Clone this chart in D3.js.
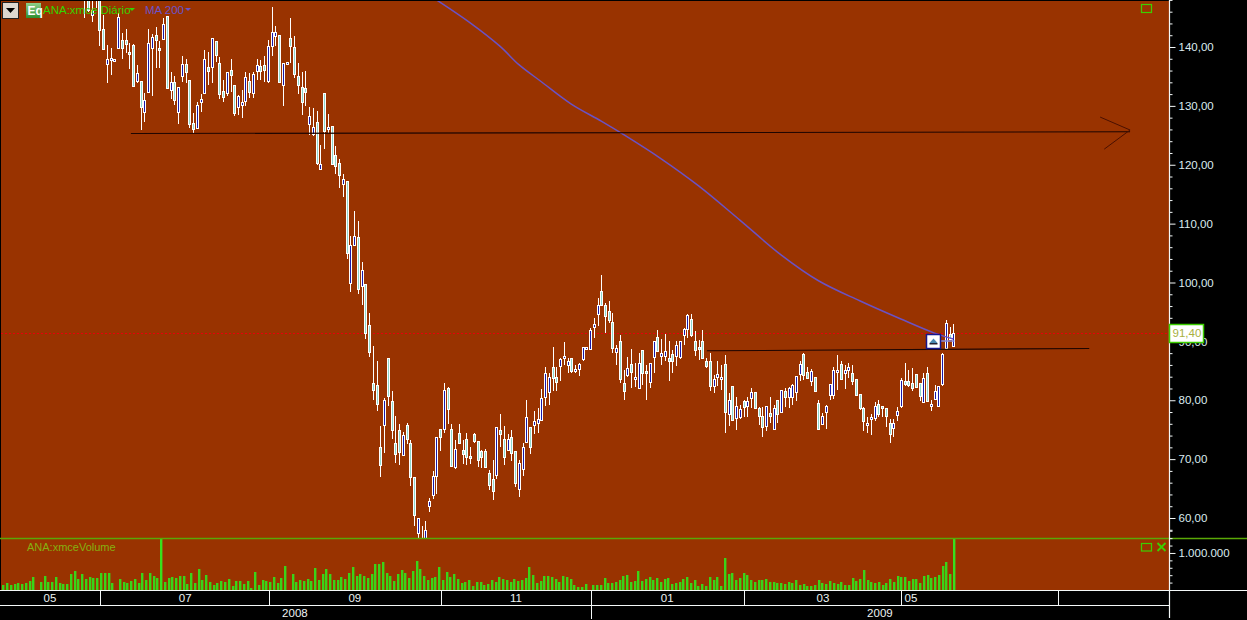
<!DOCTYPE html>
<html><head><meta charset="utf-8">
<script src="https://cdn.jsdelivr.net/npm/d3@7/dist/d3.min.js"></script>
<style>html,body{margin:0;padding:0;background:#000;overflow:hidden}svg{display:block}text{font-family:"Liberation Sans",Arial,sans-serif}</style>
</head><body><svg id="c" width="1247" height="620"></svg>
<script>
const firstCandleIndex = 21;
const high = [150,150,150,150,150,145.5,140.4,139.8,138,145.8,
142.3,143,140.7,140.5,137,134.3,132.2,143,142.2,143.4,
141.1,144.9,145.3,135.8,135,133.2,138.4,137.9,134.4,128.8,
130.7,132,139.5,139.2,141.5,141.1,138.3,134.4,135.7,137.9,
133.6,131.9,132.7,135.7,135.5,135.8,137.9,137.8,138.4,141.2,
146.8,143.6,142,137.2,137.5,144.9,141.9,137.3,135.8,135.9,
129.8,129.6,129.2,123.3,132.2,128.6,126.6,123.1,120.9,118.5,
117.3,107.9,112.2,110.5,103.5,99.8,94.9,89.2,86.7,75.7,
80.3,87.2,81.6,77.3,76,74.6,76.2,73.3,67,60,
58.6,59.5,63.4,68,73.8,75.2,82.9,82.3,76,73.2,
76,73.2,74.4,72,74.5,73,71.6,71.7,68.2,69.8,
75.4,77.6,75.6,74.3,75,71.4,69.9,72.8,80,75.5,
78.2,78.6,81.9,85.6,84.6,89,85.7,87.1,89.9,87.1,
87.2,86,86.4,89.1,89.1,92.2,93.9,97.3,101.2,96.5,
96.9,94.8,89.4,91,85.2,87.3,88.7,86.4,88.1,88.5,
86,86.3,90,91.9,90.4,91.2,90.1,88.5,90.1,90.1,
92.2,94.6,94.6,91.7,90.2,91.9,87.1,88,84.3,86.6,
86,87.7,81.2,82.5,80.6,79.2,80,80.6,82,81.4,
78.9,78.9,79.1,80.5,79.2,80,81.8,82,82.3,82.8,
84.1,86.6,88.1,85.6,85.3,84,80.1,77.8,79.2,82.8,
85.7,87.7,86.6,86,86.3,86,83.6,81,78.9,77.2,
77.7,79.7,80,79.1,78.7,76.9,76.9,78.9,83.7,86.3,
85.1,85.4,84.4,83,84.6,85.7,80,82.6,82.5,88,93.6,92.5,93];
const low = [144.9,146,144.3,146.6,140.2,139.5,133.9,135.3,137.4,139.8,
137.9,138.9,136.3,133.5,133.9,125.9,127.3,132.2,131.7,136.4,
136.4,141.2,133,131.1,130.2,126.9,134.1,133.9,126.2,125.4,
126.3,129,132,133.6,133.9,137.5,131.1,130.7,131.7,132.4,
128.3,128.5,128,130,131.3,131.3,134.4,134.4,134.1,133.9,
138.5,140.1,134.1,129.9,137,137.2,134.7,132,128.5,130,
125.1,124.9,119.9,119.1,122.6,125.4,120,118.5,116,114.6,
104,98.4,106.3,98.1,96.1,90.4,87.3,80,78.2,67,
71.1,79.1,73.5,69.4,69,70.7,72.5,65.5,58.6,56.5,
55,55,61.1,63.3,64.1,71.3,74.5,76,68.9,68.3,
72.6,69.2,69,69.1,72.8,68.6,68.5,68.5,64.8,63.1,
66.6,72.1,69,71.3,69.6,65.3,63.5,67.2,73,70.9,
74.3,74.5,76.5,79,79.2,81.5,81.5,83.3,86,84.6,
84.7,84.7,84.1,86.6,88.8,88.7,90.6,92.6,96.2,91.5,
93.1,88.1,86,82.9,80.1,83.9,82.1,82.3,82.2,82.6,
80,82,84.6,88.5,86,86.6,83.3,84.6,85.8,87,
89.4,90.5,90.8,87.5,86.8,87.1,85.4,81.5,81.2,82.4,
81.8,74.4,75.6,76.4,75,76.9,77.2,77.2,78.6,78.6,
75.8,73.8,74.7,76.1,75.1,76.1,78.1,78.9,78.6,79.2,
79.8,83.3,83.4,83.7,82.4,81.5,75.1,76,75.2,80,
80.2,81.8,83.6,81.9,83.7,82.6,80.7,78.4,74.7,74.4,
74.1,76.4,77.2,77.1,75.5,72.7,73.8,76.4,78.7,82.4,
82.3,81.5,82,79.9,79.5,79.8,78.1,80.2,79.1,82.4,88.7,90.2,89.1];
const open = [150,149,145.4,150,149,143,137.1,137.7,137.5,139.8,
141.2,141.2,139.2,140.4,134.1,134.2,128.9,132.3,139.9,142,
139.8,141.4,145.3,132.7,134,129,135,137.1,134.4,127.1,
126.3,130.6,132.2,136.6,136.6,141.1,137.2,132.6,132.2,136.1,
133.6,129.8,130.2,130.8,134.2,132.2,135.9,136.8,137,134.2,
140.1,142,142,133.4,137.1,141.5,140,135.1,133.2,133,
126.9,125.2,127.2,119.3,132.2,126,126.6,121.7,120.3,116.7,
117.3,100,106.3,107.7,99.3,99.8,92.7,82.9,82.6,72,
75.8,87.2,79.9,72.7,74.9,70.7,75.8,72.7,67,57.4,
56,55.5,62.1,63.9,67.2,75.2,75.1,82.1,75.1,68.7,
74.4,71.6,73.4,70.5,74.2,73,71.4,71.4,67.6,66.6,
67.2,75,73.4,71.6,73.7,71.4,64.9,68.3,73,75.5,
75.9,76.2,76.5,80.5,81.5,85.6,83.9,85.8,87.3,85.9,
87.2,84.9,85.3,87.1,88.8,88.7,92.4,94.6,98.5,96.1,
95.2,93.3,88.2,90,82.9,84.3,86.1,83.7,82.2,88.5,
84.9,83,87.3,90.8,87.6,87.5,87.1,87.8,87.4,87.4,
91,92.1,93.8,90,89,90,86.7,86.6,82.4,84,
83.6,86.1,77.7,82.5,77,77.2,79.9,79,80.4,81.4,
78.6,77.4,75.7,77.9,75.2,80,78.1,81.6,80.6,80.5,
81.3,84.5,87.9,84.8,83.3,83.9,79.5,76,77.9,80.9,
80.9,84.8,86.2,84.6,85.1,84.6,83.6,81,78.6,75.7,
77,77.1,79.3,79.1,78.7,76.1,75.4,77.4,79,83.3,
83.3,83,84.4,83,79.6,84.7,79,80.3,79.1,82.8,88.8,91.3,89.2];
const close = [149,146.3,146.3,149,142.9,139.6,137.9,138.1,137.9,145.1,
139.8,140.5,138.8,133.5,135.5,129.7,131,140.6,141.7,141.1,
139.4,143.9,133,134,131,133.2,137.1,135.7,126.9,126,
130.2,131.1,137.9,135.9,141.5,138.8,131.9,131.5,135.7,135.3,
128.9,131.6,130.7,134.9,132.3,135.4,137,136,136.2,140.2,
142.5,142.6,134.1,137.2,137.4,140.2,135.4,133.6,130.6,132.4,
128.3,126.4,120.2,120.2,125.8,126.4,120.2,119.8,118.3,117.6,
105,106.4,107.9,98.8,102.1,91.4,88.1,81.7,79.3,68.9,
80,80.8,75,70.9,71.1,74.1,73.4,66.9,60.6,60,
55.5,58,62.9,67.2,73.8,73.8,81.7,78.6,68.9,71.7,
72.7,71,70.3,70.1,73,69.8,70.4,68.6,65.5,64.6,
75.4,74.3,70.3,73.5,71,66,69.3,72.1,77.2,72.1,
76.5,76.8,80.3,84.6,84,83.8,83,87,87.6,86.6,
85,85.3,86.1,89.1,89.1,92,92.9,96.2,96.2,94.2,
93.6,88.9,88.8,83.6,81.6,85.5,84.7,84,86.4,84.6,
84.6,86.3,90,88.5,88.1,88.4,86.6,86.6,89.3,90.1,
92.1,94.5,91.1,88.5,88.7,87.1,85.8,82.4,83.6,84.5,
83.9,78,80.1,76.8,79.1,78.5,78.9,79.8,81.4,78.7,
77.3,75.5,79.1,77.4,78.7,77.6,81.8,80.5,82.1,82.6,
84.1,86.2,84.4,83.8,85,81.6,75.1,77.4,79,82.7,
85.1,85.1,83.7,85.1,85.6,83.2,80.9,78.6,76.4,76.1,
77.2,79.1,77.6,78.7,77.3,74.3,76.2,78.1,83.4,82.8,
82.6,82.2,82.2,80.8,83.7,79.9,79.3,81.6,82.5,87.9,93.1,90.5,91.4];
// volume, thousands of shares
const volume = [135,189,135,162,189,162,189,243,351,0,
216,378,216,216,351,189,162,162,432,513,
297,432,297,351,324,324,459,459,459,189,
0,297,216,189,243,297,189,459,270,459,
378,324,1500,216,324,351,324,378,378,162,
459,189,567,270,405,216,135,189,243,216,
297,108,243,243,162,243,54,486,135,270,
243,216,351,189,324,648,0,432,216,270,
243,297,243,594,270,432,567,432,270,270,
351,297,459,621,378,432,378,324,432,702,
702,756,459,378,243,432,540,459,324,513,
783,567,
378,270,324,351,621,270,486,351,432,297,
189,216,270,108,216,216,135,162,270,216,
351,297,270,216,297,243,270,324,621,405,
189,243,378,378,351,297,216,378,351,297,
135,81,81,162,0,135,135,135,324,189,
189,216,270,
378,405,216,243,513,243,297,351,270,324,
216,297,324,162,189,216,297,351,189,270,
108,162,108,351,270,351,108,864,432,459,
270,324,459,405,270,216,270,270,297,216,
216,189,189,162,216,189,270,135,162,108,
108,135,270,189,162,243,189,162,
216,135,135,324,243,297,540,270,216,189,
216,135,189,297,216,378,351,351,243,297,
297,189,378,405,324,351,405,648,756,432,
1500];
const maIndex = [115,124,132,137,143,151,159,165,175,185,196,207,217,228,239,248,253];
const maValue = [148,144.1,140.1,137,134.1,130.3,127.4,125.1,121,116.4,110.6,104.7,100.3,96.9,93.8,91.4,90.4];
const lastPrice = 91.4;
const priceTicks = [60,70,80,90,100,110,120,130,140];
const priceMinorTicks = [56,58,62,64,66,68,72,74,76,78,82,84,86,88,92,94,96,98,102,104,106,108,112,114,116,118,122,124,126,128,132,134,136,138,142,144,146,148];
const volumeTicks = [1000];
const volumeMinorTicks = [0,200,400,600,800,1200,1400,1600];
const monthBoundaries = [25.2,70.3,116.2,197.1,239,281];
const yearBoundaries = [156.3];
const monthNames = ["05","07","09","11","01","03","05"];
const monthAt = [11.8,47.9,93.2,136.2,176.6,218.2,241.7];
const yearNames = ["2008","2009"];
const yearAt = [77.2,233.4];
const supportIdx = [33.4,300.2], supportVal = [125.3,125.6];
const arrowIdx = [292.2,300.2,293.3], arrowVal = [128.1,125.9,122.65];
const resistIdx = [187.2,289.3], resistVal = [88.4,88.8];

const svg = d3.select("#c");
const W=1247, plotR=1169, panelB=538, volB=590;
const x = d3.scaleLinear().domain([0,253]).range([5.8,953.3]);
const xv = d3.scaleLinear().domain([0,253]).range([3.3,954]);
const y = d3.scaleLinear().domain([60,140]).range([518,47]);
const yv = d3.scaleLinear().domain([0,1404]).range([volB,panelB]).clamp(true);

svg.append("rect").attr("width",W).attr("height",620).attr("fill","#000");
svg.append("rect").attr("x",1).attr("y",1).attr("width",plotR-1).attr("height",volB-1).attr("fill","#993300");
const defs=svg.append("defs");
defs.append("clipPath").attr("id","pc").append("rect").attr("x",1).attr("y",1).attr("width",plotR-1).attr("height",panelB-1);
const grad=defs.append("linearGradient").attr("id","eq").attr("x1",0).attr("y1",0).attr("x2",0).attr("y2",1);
grad.append("stop").attr("offset",0).attr("stop-color","#8fd08a");
grad.append("stop").attr("offset",1).attr("stop-color","#2f8f2f");

// last price line
svg.append("line").attr("x1",1).attr("x2",plotR).attr("y1",Math.round(y(lastPrice))+.5).attr("y2",Math.round(y(lastPrice))+.5)
  .attr("stroke","#e8000a").attr("stroke-dasharray","2,2");

// candles
const candles = high.map((h,k)=>({i:firstCandleIndex+k,h,l:low[k],o:open[k],c:close[k]}));
const plot = svg.append("g").attr("clip-path","url(#pc)").attr("shape-rendering","crispEdges");
const cg = plot.selectAll("g").data(candles).join("g");
cg.append("line")
  .attr("x1",d=>Math.round(x(d.i))+.5).attr("x2",d=>Math.round(x(d.i))+.5)
  .attr("y1",d=>y(d.h)).attr("y2",d=>y(d.l)).attr("stroke","#fff");
cg.append("rect")
  .attr("x",d=>Math.round(x(d.i))-.5).attr("width",2)
  .attr("y",d=>Math.round(y(Math.max(d.o,d.c)))+.5)
  .attr("height",d=>Math.max(2,Math.round(Math.abs(y(d.o)-y(d.c)))))
  .attr("fill",d=>d.c>=d.o?"#1a1aa8":"#8fd8cc").attr("stroke","#fff");

// moving average
const gOver = svg.append("g").attr("clip-path","url(#pc)");
gOver.append("path").datum(maIndex.map((m,k)=>[m,maValue[k]])).attr("fill","none").attr("stroke","#6a52c4").attr("stroke-width",1.5)
  .attr("d",d3.line().x(d=>x(d[0])).y(d=>y(d[1])).curve(d3.curveCatmullRom));

// hand-drawn trend lines
const tl = d3.line().x(d=>x(d[0])).y(d=>y(d[1]));
gOver.append("path").datum(supportIdx.map((m,k)=>[m,supportVal[k]])).attr("d",tl).attr("fill","none").attr("stroke","#1e0500").attr("stroke-width",1.1);
gOver.append("path").datum(arrowIdx.map((m,k)=>[m,arrowVal[k]])).attr("d",tl).attr("fill","none").attr("stroke","#4a1000").attr("stroke-width",1);
gOver.append("path").datum(resistIdx.map((m,k)=>[m,resistVal[k]])).attr("d",tl).attr("fill","none").attr("stroke","#1e0500").attr("stroke-width",1.1);

// alert marker on last bars
const mk = svg.append("g").attr("transform",`translate(926.5,334.5)`);
mk.append("line").attr("x1",14).attr("x2",28).attr("y1",6.5).attr("y2",6.5).attr("stroke","#8a88d8").attr("stroke-width",1.5);
mk.append("rect").attr("width",14).attr("height",14).attr("fill","#fff").attr("stroke","#16168c").attr("stroke-width",1.5);
mk.append("path").attr("d","M3,8.5 L7,4 L11,8.5 Z").attr("fill","#4a88b0");
mk.append("rect").attr("x",3).attr("y",8.5).attr("width",8).attr("height",1.5).attr("fill","#223");

// volume panel
svg.append("g").selectAll("rect").data(volume).join("rect")
  .attr("x",(d,i)=>Math.round(xv(i))-1).attr("width",2.4)
  .attr("y",d=>yv(d)).attr("height",d=>volB-yv(d)).attr("fill",(d,i)=>d>=1404?"#38e01c":"#3ad418");
svg.append("line").attr("x1",0).attr("x2",W).attr("y1",538.5).attr("y2",538.5).attr("stroke","#5aa806").attr("stroke-width",1.5);

// axes
function ax(g,scale,ticks,size,fmt){
  g.call(d3.axisRight(scale).tickValues(ticks).tickSize(size).tickPadding(3).tickFormat(fmt));
  g.select(".domain").remove();
  g.selectAll("line").attr("stroke","#f4f8f8");
  g.selectAll("text").attr("fill","#dcecf0").attr("font-size",11.5).attr("font-family",'"Liberation Sans",Arial,sans-serif');
}
const deLoc = d3.formatLocale({decimal:",",thousands:".",grouping:[3],currency:["",""]});
const fP = deLoc.format(",.2f"), fV = deLoc.format(",d");
const price = svg.append("g").attr("transform",`translate(${plotR+.5},0)`);
ax(price.append("g"),y,priceTicks,6,fP);
const yClip=d3.scaleLinear().domain([60,140]).range([518,47]);
ax(price.append("g"),yClip,priceMinorTicks,3,()=>"");
const vol = svg.append("g").attr("transform",`translate(${plotR+.5},0)`);
ax(vol.append("g"),d3.scaleLinear().domain([0,1404]).range([volB,panelB]),volumeTicks,6,d=>fV(d*1000));
ax(vol.append("g"),d3.scaleLinear().domain([0,1404]).range([volB,panelB]),volumeMinorTicks,3,()=>"");
price.selectAll(".tick").filter(d=>d<56).remove();
// hide price ticks inside volume band
price.selectAll(".tick").filter(d=>y(d)>536).remove();

const wl=(x1,y1,x2,y2,w=1)=>svg.append("line").attr("x1",x1).attr("y1",y1).attr("x2",x2).attr("y2",y2).attr("stroke","#f4f8f8").attr("stroke-width",w);
wl(0,590.5,W,590.5); wl(0,605.5,plotR,605.5);
wl(plotR+.5,0,plotR+.5,618,1.2);
svg.selectAll(".mb").data(monthBoundaries).join("line").attr("class","mb")
  .attr("x1",d=>Math.round(x(d))+.5).attr("x2",d=>Math.round(x(d))+.5).attr("y1",590).attr("y2",605).attr("stroke","#f4f8f8");
svg.selectAll(".yb").data(yearBoundaries).join("line").attr("class","yb")
  .attr("x1",d=>Math.round(x(d))+.5).attr("x2",d=>Math.round(x(d))+.5).attr("y1",590).attr("y2",619).attr("stroke","#f4f8f8");
svg.selectAll(".ml").data(monthNames).join("text").attr("class","ml").text(d=>d)
  .attr("x",(d,i)=>x(monthAt[i])).attr("y",602).attr("text-anchor","middle").attr("font-size",11.5).attr("fill","#eef4f4");
svg.selectAll(".yl").data(yearNames).join("text").attr("class","yl").text(d=>d)
  .attr("x",(d,i)=>x(yearAt[i])).attr("y",617).attr("text-anchor","middle").attr("font-size",11.5).attr("fill","#eef4f4");

// last price tag
svg.append("rect").attr("x",1169.5).attr("y",324.5).attr("width",34).attr("height",18).attr("fill","#fff").attr("stroke","#3ccf00").attr("stroke-width",1.5);
svg.append("text").text(fP(lastPrice)).attr("x",1172.5).attr("y",337).attr("font-size",11.5).attr("fill","#a8b040");

// header
svg.append("rect").attr("x",2.5).attr("y",2.5).attr("width",16).attr("height",16).attr("fill","#ddd8d0").attr("stroke","#222");
svg.append("path").attr("d","M6,8 L15,8 L10.5,13 Z").attr("fill","#000");
svg.append("rect").attr("x",26).attr("y",3).attr("width",15).attr("height",15).attr("fill","url(#eq)");
svg.append("text").text("Eq").attr("x",27.5).attr("y",15).attr("font-size",12).attr("font-weight","bold").attr("fill","#fff");
svg.append("text").text("ANA:xmce Diário").attr("x",43).attr("y",14).attr("font-size",11.5).attr("fill","#33d400");
svg.append("path").attr("d","M129,8 L135,8 L132,11 Z").attr("fill","#33d400");
svg.append("text").text("MA 200").attr("x",145).attr("y",14).attr("font-size",11.5).attr("fill","#6a52c8");
svg.append("path").attr("d","M185,8 L191,8 L188,11 Z").attr("fill","#6a52c8");
svg.append("text").text("ANA:xmceVolume").attr("x",27).attr("y",551).attr("font-size",11).attr("fill","#86b010");

// panel controls
const ctl=(xx,yy,w,h)=>svg.append("rect").attr("x",xx).attr("y",yy).attr("width",w).attr("height",h).attr("fill","none").attr("stroke","#3ccf00").attr("stroke-width",1.2);
ctl(1141.5,4.5,10,8); ctl(1141.5,543.5,10,7.5);
svg.append("path").attr("d","M1157.5,543 L1165.5,551 M1165.5,543 L1157.5,551").attr("stroke","#3ccf00").attr("stroke-width",1.8);
</script></body></html>
